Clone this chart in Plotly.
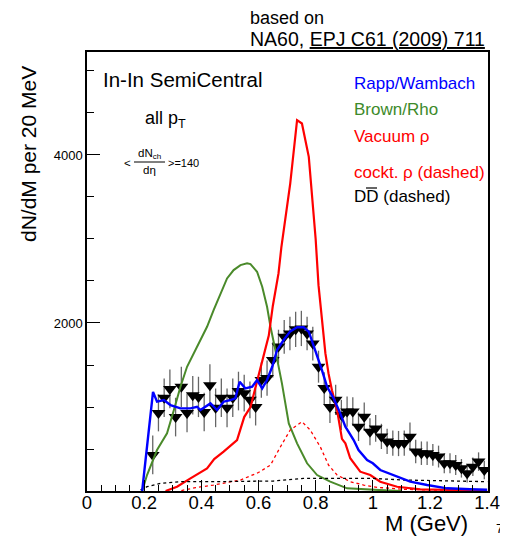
import plotly.graph_objects as go

# ---------------- data ----------------
data_m = [0.23, 0.25, 0.27, 0.29, 0.31, 0.33, 0.35, 0.37, 0.39, 0.41, 0.43, 0.45, 0.47, 0.49,
          0.51, 0.53, 0.55, 0.57, 0.59, 0.61, 0.63, 0.65, 0.67, 0.69, 0.71, 0.73, 0.75, 0.77,
          0.79, 0.81, 0.83, 0.85, 0.87, 0.89, 0.91, 0.93, 0.95, 0.97, 0.99, 1.01, 1.03, 1.05,
          1.07, 1.09, 1.11, 1.13, 1.15, 1.17, 1.19, 1.21, 1.23, 1.25, 1.27, 1.29, 1.31, 1.33,
          1.35, 1.37, 1.39]
data_y = [430, 930, 1110, 1215, 880, 1240, 930, 1140, 1120, 940, 1260, 990, 1110, 990,
          1110, 1190, 1165, 1085, 1000, 1320, 1345, 1560, 1720, 1835, 1875, 1925, 1935, 1875,
          1755, 1480, 1225, 1000, 1085, 905, 945, 945, 765, 885, 705, 745, 650, 590,
          570, 565, 570, 645, 470, 450, 450, 430, 410, 330, 330, 310, 270, 210,
          290, 350, 250]
data_err = [230, 220, 230, 230, 230, 240, 230, 230, 240, 230, 250, 230, 230, 230,
            230, 230, 220, 220, 220, 210, 210, 210, 200, 200, 200, 210, 210, 200,
            200, 190, 190, 190, 180, 180, 180, 170, 170, 170, 160, 160, 150, 150,
            150, 150, 150, 170, 140, 140, 140, 130, 130, 120, 120, 120, 110, 110,
            110, 110, 110]

rapp_m = [0.193, 0.231, 0.245, 0.269, 0.292, 0.327, 0.362, 0.385, 0.397, 0.432, 0.455, 0.478,
          0.502, 0.519, 0.534, 0.554, 0.578, 0.595, 0.613, 0.63, 0.648, 0.665, 0.688, 0.711,
          0.735, 0.758, 0.776, 0.799, 0.822, 0.84, 0.863, 0.886, 0.904, 0.933, 0.95, 0.98,
          1.0, 1.026, 1.085, 1.131, 1.19, 1.26, 1.34, 1.4]
rapp_y = [0, 1180, 1063, 1083, 1023, 984, 984, 1003, 964, 1043, 964, 1063,
          1083, 1103, 1300, 1222, 1242, 1321, 1222, 1321, 1479, 1678, 1797, 1900,
          1950, 1950, 1896, 1678, 1440, 1241, 1103, 924, 765, 607, 488, 369,
          330, 250, 170, 111, 71, 32, 20, 15]

brown_m = [0.193, 0.21, 0.245, 0.28, 0.304, 0.327, 0.35, 0.373, 0.397, 0.42, 0.443, 0.467,
           0.49, 0.513, 0.537, 0.56, 0.572, 0.595, 0.613, 0.63, 0.642, 0.659, 0.682, 0.706,
           0.735, 0.77, 0.805, 0.851, 0.91, 1.04, 1.1]
brown_y = [0, 190, 488, 686, 964, 1241, 1479, 1639, 1797, 1955, 2154, 2353,
           2531, 2630, 2689, 2710, 2701, 2610, 2431, 2193, 1955, 1678, 1281, 805,
           567, 330, 190, 111, 32, 8, 0]

vac_m = [0.275, 0.315, 0.362, 0.42, 0.445, 0.478, 0.525, 0.55, 0.572, 0.595, 0.618, 0.636,
         0.65, 0.67, 0.68, 0.711, 0.735, 0.752, 0.776, 0.79, 0.80, 0.81, 0.822, 0.834,
         0.845, 0.857, 0.875, 0.886, 0.892, 0.904, 0.921, 0.956, 0.991, 1.026, 1.085, 1.166,
         1.28, 1.4]
vac_y = [0, 51, 151, 270, 380, 468, 607, 880, 1000, 1300, 1600, 1850,
         2200, 2590, 2900, 3660, 4415, 4375, 3978, 3450, 3000, 2450, 2050, 1640,
         1400, 1200, 964, 765, 620, 567, 390, 230, 190, 111, 51, 20,
         10, 5]

cockt_m = [0.33, 0.38, 0.443, 0.537, 0.6, 0.642, 0.677, 0.711, 0.752, 0.781, 0.816, 0.845,
           0.875, 0.921, 0.968, 1.015, 1.108, 1.23, 1.4]
cockt_y = [5, 40, 71, 131, 220, 309, 527, 726, 825, 726, 527, 309,
           190, 111, 71, 44, 20, 10, 8]

dd_m = [0.187, 0.21, 0.257, 0.327, 0.443, 0.56, 0.653, 0.758, 0.875, 0.991, 1.108, 1.224, 1.341, 1.4]
dd_y = [12, 51, 91, 111, 111, 111, 119, 151, 151, 151, 131, 123, 111, 111]

x_ticks = [0, 0.2, 0.4, 0.6, 0.8, 1.0, 1.2, 1.4]
x_tick_labels = ["0", "0.2", "0.4", "0.6", "0.8", "1", "1.2", "1.4"]
y_ticks = [2000, 4000]
y_tick_labels = ["2000", "4000"]

# ---------------- figure ----------------
FONT = "Liberation Sans, Arial, Helvetica, sans-serif"
OFF = 8                      # page body margin of the html page
W, H = 508 - OFF, 537 - OFF  # figure size
# plot-frame edges in window pixels
L, R, T, B = 87, 488, 52, 491

def px(xp):
    return (xp - L) / (R - L)

def py(yp):
    return (B - yp) / (B - T)

fig = go.Figure()

fig.add_trace(go.Scatter(
    x=data_m, y=data_y, mode="markers",
    marker=dict(symbol="triangle-down", size=12, color="black"),
    error_y=dict(type="data", array=data_err, visible=True, color="#666666",
                 thickness=1.3, width=0),
    showlegend=False))

fig.add_trace(go.Scatter(x=brown_m, y=brown_y, mode="lines",
                         line=dict(color="#4a8a2a", width=2), showlegend=False))
fig.add_trace(go.Scatter(x=vac_m, y=vac_y, mode="lines",
                         line=dict(color="#ff0000", width=2.2), showlegend=False))
fig.add_trace(go.Scatter(x=cockt_m, y=cockt_y, mode="lines",
                         line=dict(color="#ff0000", width=1.3, dash="dot"), showlegend=False))
fig.add_trace(go.Scatter(x=dd_m, y=dd_y, mode="lines",
                         line=dict(color="black", width=1.3, dash="dot"), showlegend=False))
fig.add_trace(go.Scatter(x=rapp_m, y=rapp_y, mode="lines",
                         line=dict(color="#0000ff", width=2.4), showlegend=False))

axis_common = dict(showgrid=False, zeroline=False, showline=True, linecolor="black",
                   linewidth=1.5, mirror=True, ticks="inside", tickcolor="black",
                   tickwidth=1, automargin=False)

fig.update_xaxes(range=[0, 1.403], tickvals=x_ticks, ticktext=x_tick_labels,
                 ticklen=11, tickfont=dict(family=FONT, size=18.5, color="black"),
                 ticklabelstandoff=-6,
                 minor=dict(dtick=0.05, ticks="inside", ticklen=6, tickcolor="black"),
                 **axis_common)
fig.update_yaxes(range=[0, 5226], tickvals=y_ticks, ticktext=y_tick_labels,
                 ticklen=13, tickfont=dict(family=FONT, size=13, color="black"),
                 minor=dict(dtick=500, ticks="inside", ticklen=7, tickcolor="black"),
                 **axis_common)

ann = []
def text(xp, yp, s, size, color="black", xanchor="left", yanchor="middle", angle=0):
    ann.append(dict(x=px(xp), y=py(yp), xref="paper", yref="paper", text=s,
                    showarrow=False, xanchor=xanchor, yanchor=yanchor, textangle=angle,
                    font=dict(family=FONT, size=size, color=color)))

text(248, 18, "based on", 18)
text(248, 39, "NA60, <u>EPJ C61 (2009) 711</u>", 19.5)
text(28, 154, "dN/dM per 20 MeV", 21, xanchor="center", angle=-90)
text(470, 523, "M (GeV)", 22, xanchor="right")
text(500, 528, "7", 13, xanchor="center")

text(101, 79, "In-In SemiCentral", 20.5)
text(143, 120, "all p<sub>T</sub>", 18)
text(149, 154, "dN<sub>ch</sub>", 11.5, xanchor="center")
text(149, 170, "dη", 11.5, xanchor="center")
text(133, 163, "<", 11.5, xanchor="right")
text(166, 163, ">=140", 11)

text(352, 83, "Rapp/Wambach", 17, color="#0000ff")
text(352, 109, "Brown/Rho", 17, color="#3d8a2a")
text(352, 136, "Vacuum ρ", 17, color="#ff0000")
text(352, 173, "cockt. ρ (dashed)", 17, color="#ff0000")
text(352, 196, "DD (dashed)", 17)

fig.update_layout(
    width=W, height=H,
    margin=dict(l=L - OFF, r=W - (R - OFF), t=T - OFF, b=H - (B - OFF), pad=0),
    paper_bgcolor="white", plot_bgcolor="white",
    annotations=ann,
    shapes=[
        dict(type="line", xref="paper", yref="paper", x0=px(134), x1=px(165),
             y0=py(162), y1=py(162), line=dict(color="black", width=1)),
        dict(type="line", xref="paper", yref="paper", x0=px(366), x1=px(377),
             y0=py(188), y1=py(188), line=dict(color="black", width=1.2)),
    ],
)

fig.write_html("out.html")
